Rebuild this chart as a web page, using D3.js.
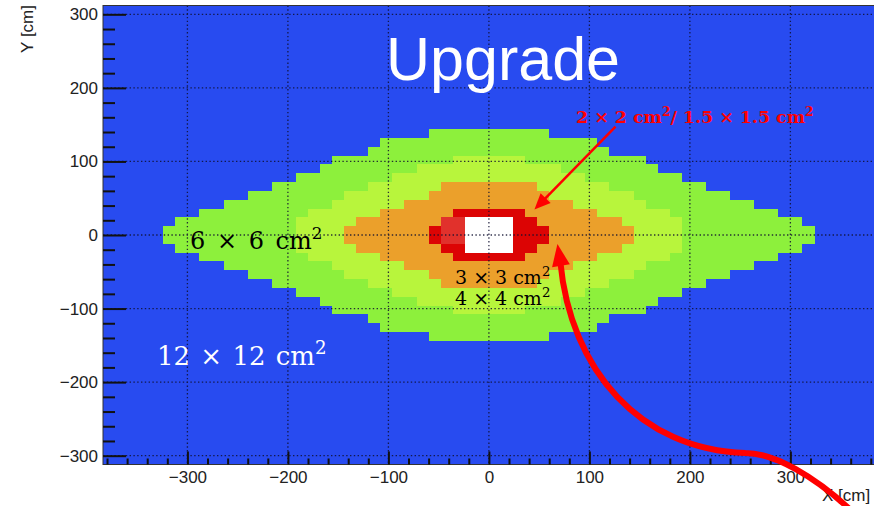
<!DOCTYPE html>
<html><head><meta charset="utf-8">
<script src="https://cdn.jsdelivr.net/npm/d3@7"></script>
<style>body{margin:0;background:#fff} svg{display:block}</style>
</head><body><svg id="chart" width="874" height="506"></svg>
<script>
// ECAL cell-size map: each zone is stored as half-widths (cm) per 12 cm module row,
// counted from y = 0 outward; the zones are symmetric in x and in y.
const rowHeight = 12;
const zone6x6 = [324, 312, 288, 264, 240, 216, 192, 168, 156, 120, 108, 60];
const zone4x4 = [192, 192, 180, 156, 144, 120, 96, 72, 36];
const zone3x3 = [144, 132, 108, 84, 60, 48];
const zone2x2 = [60, 48, 36];
const zone15 = [{x0: -48, x1: -24, y0: -12, y1: 24}];
const beamHole = [{x0: -24, x1: 24, y0: -24, y1: 24}];
const xTicks = [-300, -200, -100, 0, 100, 200, 300];
const yTicks = [-300, -200, -100, 0, 100, 200, 300];
const zoneColors = {bg: "#284cf0", z6: "#8ef03c", z4: "#b8f53c", z3: "#eca02c", z2: "#dc0505", z15: "#e1322d", hole: "#ffffff"};

// curved arrow as two cubic segments (cm): start, control 1, control 2, end
const bigArrowSegs = [
  [[357.7, -371], [324.9, -330.3], [285.1, -296.4], [255.2, -296.4]],
  [[255.2, -296.4], [150.7, -292.3], [81.1, -183.5], [71.1, -36.7]]
];
const bigArrowTip = [68.2, -12.2];
const thinArrow = [[126, 147.5], [45.3, 34.7]];

const svg = d3.select("#chart");
const m = {left: 103, top: 5.5, bottom: 464.5};
const x = d3.scaleLinear().domain([-384, 384]).range([m.left, 874.8]);
const y = d3.scaleLinear().domain([-312, 312]).range([m.bottom, m.top]);

const defs = svg.append("defs");
defs.append("clipPath").attr("id", "plotclip").append("rect")
  .attr("x", x(-384)).attr("y", y(312)).attr("width", x(384) - x(-384)).attr("height", y(-312) - y(312));

const plot = svg.append("g").attr("clip-path", "url(#plotclip)");
plot.append("rect").attr("x", x(-384)).attr("y", y(312))
  .attr("width", x(384) - x(-384)).attr("height", y(-312) - y(312)).attr("fill", zoneColors.bg);

// expand a half-width profile into rectangles (upper and lower row each)
function bands(profile) {
  const out = [];
  profile.forEach((hw, i) => {
    out.push({x0: -hw, x1: hw, y0: i * rowHeight, y1: (i + 1) * rowHeight});
    out.push({x0: -hw, x1: hw, y0: -(i + 1) * rowHeight, y1: -i * rowHeight});
  });
  return out;
}
function drawZone(cells, color) {
  plot.append("g").selectAll("rect").data(cells).join("rect")
    .attr("x", d => x(d.x0)).attr("y", d => y(d.y1))
    .attr("width", d => x(d.x1) - x(d.x0)).attr("height", d => y(d.y0) - y(d.y1))
    .attr("fill", color).attr("shape-rendering", "crispEdges");
}
drawZone(bands(zone6x6), zoneColors.z6);
drawZone(bands(zone4x4), zoneColors.z4);
drawZone(bands(zone3x3), zoneColors.z3);
drawZone(bands(zone2x2), zoneColors.z2);
drawZone(zone15, zoneColors.z15);
drawZone(beamHole, zoneColors.hole);

// dotted grid
const grid = plot.append("g").attr("stroke", "#101030").attr("stroke-width", 1.3)
  .attr("stroke-dasharray", "1.4 2.4").attr("opacity", 0.85);
grid.selectAll("line.v").data(xTicks).join("line").attr("class", "v")
  .attr("x1", d => x(d)).attr("x2", d => x(d)).attr("y1", y(312)).attr("y2", y(-312));
grid.selectAll("line.h").data(yTicks).join("line").attr("class", "h")
  .attr("x1", x(-384)).attr("x2", x(384)).attr("y1", d => y(d)).attr("y2", d => y(d));

// frame
svg.append("rect").attr("x", x(-384)).attr("y", y(312)).attr("width", x(384) - x(-384))
  .attr("height", y(-312) - y(312)).attr("fill", "none").attr("stroke", "#333").attr("stroke-width", 1);

// axes (ticks inside the frame)
const minorY = d3.range(-300, 301, 20).filter(v => v % 100 !== 0);
const minorX = d3.range(-380, 381, 20).filter(v => v % 100 !== 0);
const font = "'Liberation Sans', Arial, sans-serif";
function styleAxis(g) {
  g.select(".domain").remove();
  g.selectAll("line").attr("stroke", "#111").attr("stroke-width", 2);
  g.selectAll("text").attr("font-family", font).attr("font-size", 17).attr("fill", "#222");
}
svg.append("g").attr("transform", `translate(${x(-384)},0)`)
  .call(d3.axisLeft(y).tickValues(yTicks).tickSize(-23).tickPadding(5)).call(styleAxis);
svg.append("g").attr("transform", `translate(${x(-384)},0)`)
  .call(d3.axisLeft(y).tickValues(minorY).tickSize(-12).tickFormat("")).call(styleAxis);
svg.append("g").attr("transform", `translate(0,${y(-312)})`)
  .call(d3.axisBottom(x).tickValues(xTicks).tickSize(-13).tickPadding(6.5)).call(styleAxis);
svg.append("g").attr("transform", `translate(0,${y(-312)})`)
  .call(d3.axisBottom(x).tickValues(minorX).tickSize(-6).tickFormat("")).call(styleAxis);

svg.append("text").attr("transform", "translate(33,5) rotate(-90)").attr("text-anchor", "end")
  .attr("font-family", font).attr("font-size", 17).attr("fill", "#222").text("Y [cm]");
svg.append("text").attr("x", 822).attr("y", 501).attr("font-family", font)
  .attr("font-size", 17).attr("fill", "#222").text("X [cm]");

// title
svg.append("text").attr("x", 386).attr("y", 80).attr("font-family", font)
  .attr("font-size", 61).attr("fill", "#fff").text("Upgrade");

// cell-size labels
const serif = "'DejaVu Serif', serif";
function sizeLabel(px, py, a, size, color, weight, spacing) {
  const t = svg.append("text").attr("x", px).attr("y", py).attr("font-family", serif)
    .attr("font-size", size).attr("fill", color).attr("font-weight", weight || "normal")
    .attr("word-spacing", spacing || 0);
  a.forEach(part => {
    if (part.sup) t.append("tspan").attr("font-size", size * 0.7).attr("dy", -size * 0.42).text(part.sup)
      .clone().attr("font-size", size).attr("dy", size * 0.42).text(part.after || "");
    else t.append("tspan").text(part.t);
  });
  return t;
}
sizeLabel(190, 249, [{t: "6 × 6 cm"}, {sup: "2"}], 24, "#000", "normal", 4);
sizeLabel(157, 365, [{t: "12 × 12 cm"}, {sup: "2"}], 26, "#fff", "normal", 2);
sizeLabel(455, 284, [{t: "3 × 3 cm"}, {sup: "2"}], 19, "#000", "normal", 0);
sizeLabel(455, 305, [{t: "4 × 4 cm"}, {sup: "2"}], 19, "#000", "normal", 0);
sizeLabel(576, 123, [{t: "2 × 2 cm"}, {sup: "2", after: "/ 1.5 × 1.5 cm"}, {sup: "2"}], 17.4, "#f00", "bold", 0);

// arrows
function head(tip, from, len, half, color) {
  const dx = tip[0] - from[0], dy = tip[1] - from[1], L = Math.hypot(dx, dy);
  const ux = dx / L, uy = dy / L;
  const bx = tip[0] - ux * len, by = tip[1] - uy * len;
  svg.append("path").attr("fill", color)
    .attr("d", `M${tip[0]},${tip[1]}L${bx - uy * half},${by + ux * half}L${bx + uy * half},${by - ux * half}Z`);
}
const curve = d3.path();
const P = d => [x(d[0]), y(d[1])];
curve.moveTo(...P(bigArrowSegs[0][0]));
bigArrowSegs.forEach(s => curve.bezierCurveTo(...P(s[1]), ...P(s[2]), ...P(s[3])));
svg.append("path").attr("d", curve.toString()).attr("fill", "none").attr("stroke", "#f00")
  .attr("stroke-width", 6).attr("stroke-linecap", "round");
const lastSeg = bigArrowSegs[bigArrowSegs.length - 1];
head(P(bigArrowTip), P(lastSeg[3]), 22, 9, "#f00");

const tA = thinArrow.map(P);
const tdx = tA[1][0] - tA[0][0], tdy = tA[1][1] - tA[0][1], tL = Math.hypot(tdx, tdy);
svg.append("line").attr("x1", tA[0][0]).attr("y1", tA[0][1])
  .attr("x2", tA[1][0] - tdx / tL * 10).attr("y2", tA[1][1] - tdy / tL * 10)
  .attr("stroke", "#f00").attr("stroke-width", 2.5);
head(tA[1], tA[0], 16, 7, "#f00");
</script></body></html>
